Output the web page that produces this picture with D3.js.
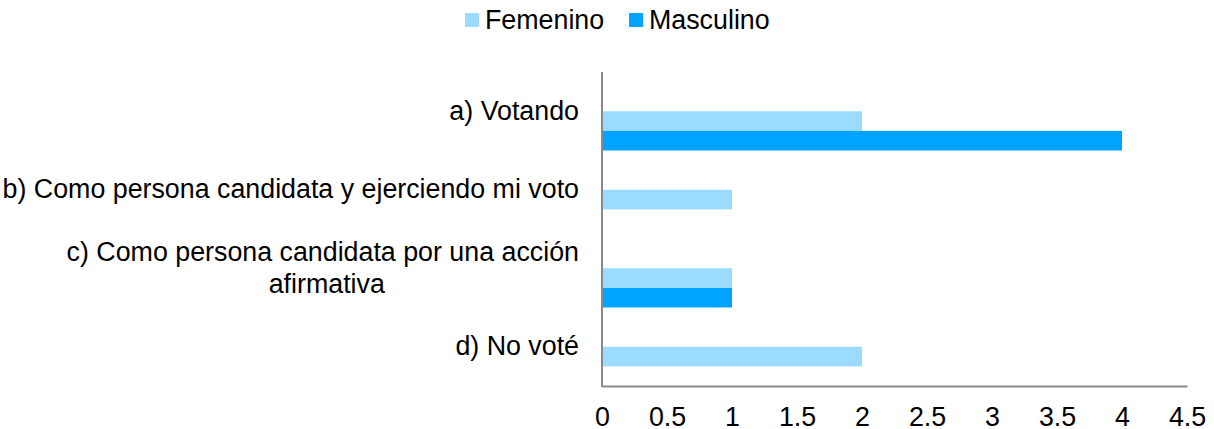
<!DOCTYPE html>
<html>
<head>
<meta charset="utf-8">
<script src="https://cdn.jsdelivr.net/npm/d3@7"></script>
<style>
  body { margin: 0; background: #fff; }
  text { font-family: "Liberation Sans", Arial, sans-serif; fill: #000; }
</style>
</head>
<body>
<div id="chart"></div>
<script>
const categories = [
  "a) Votando",
  "b) Como persona candidata y ejerciendo mi voto",
  "c) Como persona candidata por una acción afirmativa",
  "d) No voté",
];
// wrapped labels as shown
const labelLines = [
  ["a) Votando"],
  ["b) Como persona candidata y ejerciendo mi voto"],
  ["c) Como persona candidata por una acción", "afirmativa"],
  ["d) No voté"],
];
const series = ["Femenino", "Masculino"];
const femenino = [2, 1, 1, 2];
const masculino = [4, 0, 1, 0];
const xTicks = [0, 0.5, 1, 1.5, 2, 2.5, 3, 3.5, 4, 4.5];
const colors = { Femenino: "#9bdbff", Masculino: "#00a3ff" };

const W = 1214, H = 429;
const fs = "26.8px";
const svg = d3.select("#chart").append("svg")
  .attr("width", W).attr("height", H);

const x = d3.scaleLinear().domain([0, 4.5]).range([602, 1187]);
const y = d3.scaleBand().domain(categories).range([72, 386]).padding(0);
// series sit in the lower half of each band
const sub = d3.scaleBand().domain(series).range([y.bandwidth() / 2, y.bandwidth()]);

const rows = [];
categories.forEach((c, i) => {
  rows.push({ cat: c, s: "Femenino", v: femenino[i] });
  rows.push({ cat: c, s: "Masculino", v: masculino[i] });
});

svg.append("g").selectAll("rect")
  .data(rows.filter(d => d.v > 0))
  .enter().append("rect")
  .attr("x", x(0))
  .attr("y", d => y(d.cat) + sub(d.s))
  .attr("width", d => x(d.v) - x(0))
  .attr("height", sub.bandwidth())
  .attr("fill", d => colors[d.s]);

// x axis
const xAxis = svg.append("g")
  .attr("transform", "translate(0,386)")
  .call(d3.axisBottom(x).tickValues(xTicks).tickSize(0).tickPadding(21).tickFormat(d3.format("")));
xAxis.select(".domain").attr("stroke", "#898989").attr("stroke-width", 2);
xAxis.selectAll("text").style("font-size", fs).style("font-family", "Liberation Sans, Arial, sans-serif").attr("fill", "#000");

// y axis line
svg.append("line")
  .attr("x1", x(0)).attr("x2", x(0))
  .attr("y1", 72).attr("y2", 387)
  .attr("stroke", "#898989").attr("stroke-width", 2);

// category labels
const lab = svg.append("g").selectAll("g.lab")
  .data(categories)
  .enter().append("g")
  .attr("class", "lab");
lab.each(function (c, i) {
  const g = d3.select(this);
  const lines = labelLines[i];
  const cy = y(c) + y.bandwidth() / 2;
  const lh = 32;
  const top = cy - (lines.length - 1) * lh / 2;
  const first = g.append("text")
    .attr("x", 579).attr("y", top - 1).attr("dy", "0.35em")
    .attr("text-anchor", "end")
    .style("font-size", fs)
    .text(lines[0]);
  if (lines.length > 1) {
    const w = first.node().getComputedTextLength();
    const mid = 579 - w / 2;
    lines.slice(1).forEach((t, k) => {
      g.append("text")
        .attr("x", mid + 4).attr("y", top - 1 + (k + 1) * lh).attr("dy", "0.35em")
        .attr("text-anchor", "middle")
        .style("font-size", fs)
        .text(t);
    });
  }
});

// legend
const legend = svg.append("g").attr("transform", "translate(465,13)");
const lx = [0, 164];
series.forEach((s, i) => {
  const item = legend.append("g").attr("transform", "translate(" + lx[i] + ",0)");
  item.append("rect").attr("width", 14).attr("height", 14).attr("fill", colors[s]);
  item.append("text").attr("x", 20).attr("y", 7).attr("dy", "0.35em")
    .style("font-size", fs).text(s);
});
</script>
</body>
</html>
